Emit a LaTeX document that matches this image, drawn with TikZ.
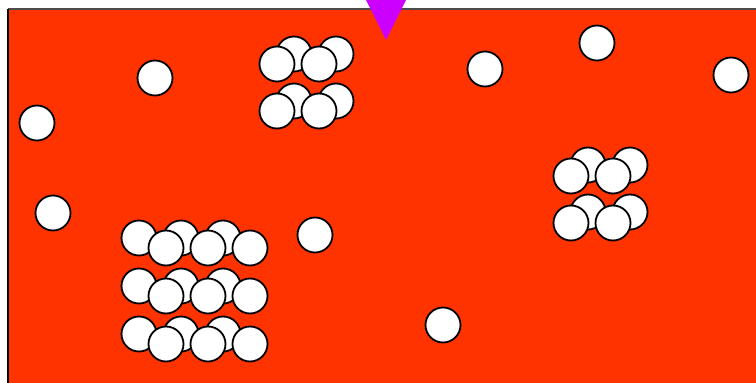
\documentclass[tikz,border=0pt]{standalone}
\begin{document}
\begin{tikzpicture}[x=1pt,y=-1pt,
  ball/.style={circle,draw=black,fill=white,line width=1.8pt,minimum size=35pt,inner sep=0pt}]
\definecolor{bg}{HTML}{FF3300}
\definecolor{mag}{HTML}{CC00FF}
\useasboundingbox (0,0) rectangle (756,383);
\clip (0,0) rectangle (756,383);
\fill[white] (0,0) rectangle (756,383);
\fill[bg] (8,9) rectangle (780,400);
\draw[black!70,line width=1.2pt] (8,9) -- (780,9);
\draw[black,line width=2pt] (8,9) -- (8,400);
% single balls
\node[ball] (s1) at (155,78) {};
\node[ball] (s2) at (37,123) {};
\node[ball] (s3) at (53,213) {};
\node[ball] (s4) at (315,235) {};
\node[ball] (s5) at (485,69) {};
\node[ball] (s6) at (597,43) {};
\node[ball] (s7) at (731,75) {};
\node[ball] (s8) at (443,325) {};
% top group
\foreach \y [count=\r] in {54,101}{
  \node[ball] (ta\r) at (294,\y) {};
  \node[ball] (tb\r) at (336,\y) {};
  \node[ball] (tc\r) at (277,\y+10) {};
  \node[ball] (td\r) at (319,\y+10) {};
}
% right group
\foreach \y [count=\r] in {165,212}{
  \node[ball] (ra\r) at (588,\y) {};
  \node[ball] (rb\r) at (630,\y) {};
  \node[ball] (rc\r) at (571,\y+11) {};
  \node[ball] (rd\r) at (613,\y+11) {};
}
% bottom-left group
\foreach \y [count=\r] in {238,286,334}{
  \node[ball] (la\r) at (139,\y) {};
  \node[ball] (lb\r) at (181,\y) {};
  \node[ball] (lc\r) at (223,\y) {};
  \node[ball] (ld\r) at (166,\y+10) {};
  \node[ball] (le\r) at (208,\y+10) {};
  \node[ball] (lf\r) at (250,\y+10) {};
}
% marker triangle
\fill[mag] (365,-2) -- (407,-2) -- (386,40) -- cycle;
\end{tikzpicture}
\end{document}
